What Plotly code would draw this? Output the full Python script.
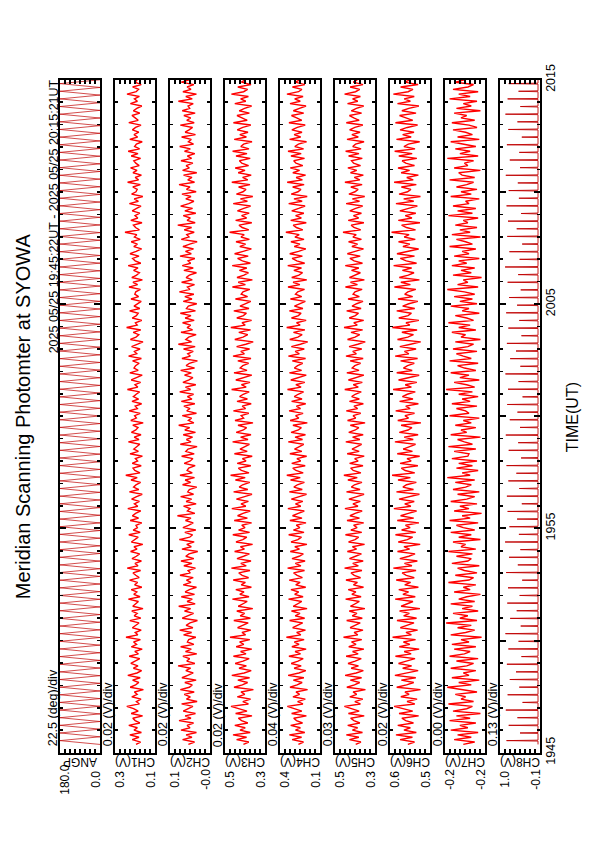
import numpy as np
import plotly.graph_objects as go

# ---------------- data ----------------
TITLE = "Meridian Scanning Photomter at SYOWA"
PERIOD_TEXT = "2025 05/25 19:45:22UT - 2025 05/25 20:15:21UT"
TIME_LABEL = "TIME(UT)"
TIME_TICK_MIN = [0, 5, 10, 15, 20, 25, 30]      # minutes after 19:45
TIME_TICK_TEXT = ["1945", "", "1955", "", "2005", "", "2015"]
TIME_MAJOR_MIN = [10, 20]
T_START = 22 / 60                                # 19:45:22
T_END = 30.0                                     # 20:15 (axis end)

CHANNEL_NAMES = ["ANGP", "CH1(V)", "CH2(V)", "CH3(V)", "CH4(V)", "CH5(V)", "CH6(V)", "CH7(V)", "CH8(V)"]
TOP_LABELS = ["180.0", "0.3", "0.1", "0.5", "0.4", "0.5", "0.6", "-0.2", "1.0"]
BOTTOM_LABELS = ["0.0", "0.1", "-0.0", "0.3", "0.1", "0.3", "0.5", "-0.2", "-0.1"]
DIV_LABELS = ["22.5 (deg)/div", "0.02 (V)/div", "0.02 (V)/div", "0.02 (V)/div", "0.04 (V)/div",
              "0.03 (V)/div", "0.02 (V)/div", "0.00 (V)/div", "0.13 (V)/div"]
AXIS_RANGES = [(0, 180), (0.1, 0.3), (-0.004, 0.12), (0.3, 0.5), (0.1, 0.4),
               (0.29, 0.52), (0.485, 0.64), (-0.22, -0.185), (-0.1, 1.0)]

# scan angle turns between these limits, once per scan
ANGP_LIMITS = [0.0, 180.0]
N_SCANS = 87

# photometer channels, in mV
CH1 = [195,172,214,180,226,168,205,188,231,176,199,211,162,219,184,207,241,178,193,170,
       216,189,203,158,224,197,181,212,174,236,190,167,208,185,221,195,176,229,183,201,
       164,218,192,207,173,245,186,199,169,213,194,180,226,171,204,189,216,160,211,198,
       183,233,175,206,191,219,166,202,187,227,179,196,210,172,239,185,200,168,215,193,
       177,222,190,205,161,218,199,184,231,174,209,188,195,166,224,182,213,197,171,236,
       186,203,178,217,192,164,228,181,207,195,172,220,189,246,175,201,210,169,214,187,
       198,163,225,183,206,191,176,233,180,204,170,218,196,185,211,159,221,193,202,174,
       229,188,199,167,215,182,208,194,177,238,186,200,172,219,190,164,226,184,205,197,
       179,212,168,232,191,203,175,217,187,160,223,195,181,209,171,242,189,198,166,214,
       193,184,227,176,205,190,169,220,182,201,196,173,230,187,210,163,216,192,178,207,
       185,234,171,199,212,180,225,194,167,206,188,219,174,203,191,250,178,197,208,165,
       221,186,200,176,214,192,170,228,183,204,161,217,195,189,211,173,237,182,199,168,
       210,190,222,179,196,206,172,219,185,234,177,202,193,164,226,187,205,181,213,197,
       170,231,184,199,215,176,208,191,166,223,188,203,178,240,194,182,212,169,200,189]
CH2 = [63,44,81,52,70,38,86,58,67,47,92,55,73,41,79,61,49,84,36,69,
       57,76,45,88,60,51,74,39,83,65,48,71,56,95,43,68,59,80,37,72,
       54,87,46,66,62,40,78,53,90,49,70,58,35,82,63,47,75,56,93,42,
       67,51,85,44,73,60,38,79,55,69,48,89,57,64,41,77,52,86,46,71,
       61,34,83,54,68,45,91,59,50,74,40,80,63,48,72,55,97,43,66,58,
       78,39,70,53,87,47,65,60,37,81,56,73,44,89,51,67,62,42,76,57,
       49,84,45,71,64,36,88,55,69,50,79,41,74,59,93,46,63,53,82,38,
       68,58,77,43,85,52,66,47,90,56,72,40,80,61,49,75,54,87,44,70,
       60,35,83,57,65,48,78,42,94,53,71,62,39,86,50,67,56,81,45,73,
       55,88,41,69,63,37,79,52,74,46,91,58,66,44,84,51,70,60,38,77,
       48,82,56,64,43,89,54,72,47,80,59,36,85,61,68,45,76,53,96,42,
       67,57,79,40,74,50,87,62,46,71,55,83,39,69,58,92,44,65,52,78,
       37,81,60,70,49,86,53,66,43,75,57,90,47,63,54,84,41,73,61,50,
       88,45,68,56,77,42,82,59,64,48,94,51,71,38,80,55,67,46,85,60]
CH3 = [408,381,442,392,460,374,425,399,451,386,417,433,365,447,390,428,470,383,411,372,
       438,401,420,358,455,413,387,436,377,466,404,369,430,393,449,410,379,458,395,422,
       366,444,406,427,376,475,397,415,371,437,409,384,456,373,424,402,441,361,434,412,
       389,463,380,426,405,446,368,419,398,459,382,414,431,375,468,394,421,370,440,407,
       378,452,403,423,362,445,411,391,461,377,432,400,416,367,454,388,437,410,374,466,
       396,420,383,443,406,365,457,386,429,412,376,448,399,472,380,418,433,371,439,395,
       413,364,453,389,425,404,378,462,385,422,370,444,408,392,435,360,450,407,419,381,
       458,397,414,369,440,388,427,409,379,467,394,418,375,446,402,366,455,390,424,411,
       382,436,370,460,403,421,377,442,396,359,451,410,386,431,372,471,399,415,367,441,
       408,393,456,380,425,402,371,448,387,419,410,376,463,398,434,363,440,405,383,428,
       391,464,373,413,437,384,452,409,368,426,397,445,378,420,404,477,381,414,430,366,
       447,392,417,379,438,406,372,459,388,423,361,443,410,395,432,375,466,386,412,369,
       434,400,449,382,416,428,374,445,390,462,380,421,407,365,454,393,426,385,439,411,
       371,458,389,415,440,378,429,402,367,451,396,422,383,468,407,387,436,370,418,399]
CH4 = [262,224,309,238,330,214,284,247,320,231,276,297,202,313,236,289,345,228,268,210,
       303,253,280,193,325,272,234,300,221,339,258,206,294,241,316,265,226,333,246,287,
       204,311,257,292,219,352,244,275,209,305,263,230,328,215,286,250,314,197,301,269,
       237,336,227,290,260,318,207,282,249,331,232,271,298,216,343,243,285,212,310,256,
       225,323,254,289,198,317,266,239,335,220,299,251,278,205,326,235,306,263,218,341,
       244,284,229,315,259,201,330,233,296,270,217,321,248,349,226,280,304,211,312,245,
       273,200,326,236,291,258,222,338,231,287,209,317,262,240,303,195,324,259,283,227,
       332,246,277,207,313,235,293,264,223,344,242,281,214,319,252,203,329,238,292,268,
       230,308,208,337,255,286,218,315,247,192,327,266,234,299,213,350,249,276,204,314,
       262,242,330,228,292,255,210,322,237,284,267,216,340,251,302,199,312,258,231,296,
       239,342,215,274,309,232,327,261,206,293,250,318,220,288,256,356,229,277,301,203,
       320,240,283,221,312,260,212,335,234,295,196,316,265,243,305,219,346,232,279,208,
       304,253,323,229,280,297,216,318,241,340,223,289,262,201,328,245,294,235,311,270,
       211,333,237,275,314,222,300,254,205,325,248,290,227,348,261,236,307,214,286,251]
CH5 = [401,371,437,383,455,362,420,390,447,377,411,430,352,443,381,424,466,374,406,360,
       435,395,416,345,452,408,378,432,367,462,398,357,427,385,445,404,369,456,387,419,
       354,441,399,425,366,471,389,410,359,433,403,375,453,363,421,394,438,348,431,407,
       380,459,370,423,400,444,356,414,391,457,373,409,428,365,465,386,418,358,437,402,
       368,449,396,420,350,442,405,384,460,366,429,393,413,355,451,379,434,404,364,463,
       388,417,374,440,401,353,454,376,426,408,365,446,392,469,371,415,430,359,436,387,
       407,352,450,381,422,397,367,458,377,419,358,441,403,383,432,347,448,401,416,372,
       455,390,411,357,437,380,424,404,369,464,386,415,363,443,396,354,452,382,421,406,
       373,433,358,457,397,418,366,439,389,346,448,405,378,428,361,468,392,412,355,438,
       403,385,453,370,422,396,359,445,380,416,405,364,460,391,431,351,437,400,374,425,
       383,461,362,410,434,375,449,404,356,423,390,442,368,417,398,474,372,411,427,354,
       444,384,414,368,435,401,361,456,379,420,349,440,405,387,429,364,463,377,409,357,
       431,395,446,373,413,425,363,442,382,459,370,418,402,353,451,386,423,376,436,406,
       360,455,381,412,437,367,426,397,355,448,389,419,374,465,402,378,433,359,415,392]
CH6 = [571,545,601,553,617,538,586,561,610,549,579,594,529,605,552,589,624,544,574,535,
       598,566,582,522,614,576,548,596,540,621,569,531,591,556,607,572,543,619,558,585,
       527,604,563,588,541,630,557,578,533,600,571,547,613,537,587,565,603,524,597,575,
       551,620,542,590,568,606,530,583,560,616,546,577,593,539,627,555,584,534,602,567,
       543,611,564,586,523,608,573,552,619,540,595,562,580,528,612,548,599,569,537,625,
       559,583,546,605,570,526,615,549,590,576,538,609,561,632,544,581,596,532,601,558,
       574,525,612,553,589,566,541,621,550,585,531,604,570,555,597,520,610,568,582,545,
       618,562,579,530,603,551,592,573,542,628,557,581,536,607,564,527,614,554,588,572,
       546,599,533,620,567,584,539,602,560,521,611,571,549,594,535,631,563,578,528,606,
       570,557,614,544,591,567,532,609,552,583,571,540,623,561,598,526,604,569,547,592,
       556,626,537,577,600,545,613,570,529,590,563,607,542,585,566,634,541,576,595,524,
       608,555,581,540,602,568,534,617,548,587,522,605,572,559,596,538,624,550,575,530,
       597,564,609,545,579,593,536,606,554,622,543,586,569,525,615,558,591,547,601,573,
       533,619,552,578,603,539,594,567,528,611,561,585,546,627,570,551,599,531,583,563]
CH7 = [-201,-211,-193,-208,-196,-214,-190,-205,-198,-212,-189,-207,-195,-216,-192,-204,-209,-188,-210,-199,
       -203,-194,-213,-200,-187,-208,-197,-215,-191,-206,-201,-212,-190,-204,-210,-195,-214,-189,-202,-207,
       -193,-212,-191,-206,-199,-217,-190,-203,-211,-196,-208,-186,-213,-198,-205,-192,-214,-200,-209,-190,
       -211,-197,-204,-216,-193,-207,-201,-212,-188,-206,-210,-194,-213,-202,-196,-215,-191,-205,-208,-195,
       -209,-188,-212,-199,-203,-192,-216,-197,-208,-190,-211,-201,-195,-214,-189,-207,-200,-217,-193,-206,
       -198,-213,-190,-204,-211,-196,-215,-192,-203,-208,-194,-211,-187,-207,-200,-214,-195,-209,-197,-213,
       -191,-205,-206,-193,-212,-188,-209,-202,-196,-216,-190,-204,-199,-212,-194,-208,-201,-215,-189,-206,
       -203,-195,-213,-191,-207,-200,-214,-197,-209,-186,-211,-204,-193,-215,-198,-206,-190,-212,-202,-196,
       -214,-189,-208,-201,-195,-213,-192,-205,-210,-194,-216,-199,-203,-191,-212,-197,-207,-188,-210,-204,
       -194,-215,-200,-206,-190,-213,-198,-209,-193,-211,-202,-187,-214,-196,-205,-201,-217,-192,-208,-199,
       -211,-191,-204,-197,-215,-193,-206,-200,-212,-189,-209,-203,-195,-216,-191,-207,-198,-213,-194,-205,
       -201,-214,-188,-209,-196,-212,-192,-206,-203,-215,-190,-208,-199,-213,-195,-204,-210,-189,-211,-200,
       -197,-216,-193,-205,-202,-210,-187,-214,-198,-207,-194,-212,-200,-190,-215,-196,-209,-203,-192,-213,
       -206,-191,-211,-199,-204,-193,-216,-195,-208,-201,-213,-189,-207,-197,-214,-192,-205,-210,-194,-202]
CH8_BASE = -45
CH8_PEAKS = [820,450,760,520,840,380,790,470,730,560,810,410,770,490,850,430,720,540,800,460,780,390,830,510,750,440,860,480,740,530,790,400,810,470,770,550,820,420,760,500,840,450,730,520,800,380,780,490,850,440,720,560,810,410,770,470,830,530,750,430,790,500,860,460,740,390,800,540,780,420,820,480,760,510,840,450,730,470,810,400,770,520,850,440,790,490,760]

# ---------------- layout constants (pixels) ----------------
W, H = 595, 842
PANEL_LEFT, PANEL_STEP, PANEL_W = 60, 55, 40
PANEL_TOP, PANEL_BOTTOM = 66, 762
FONT = "Liberation Sans, Arial, Helvetica, sans-serif"
RED = "#ff0000"
DARK_RED = "#c00000"


def fx(p):
    return p / W


def fy(p):
    return 1 - p / H


# ---------------- build series ----------------
series = []
half = (T_END - T_START) / (2 * N_SCANS)
angp_t = [T_START + k * half for k in range(2 * N_SCANS + 1)]
angp_v = [ANGP_LIMITS[k % 2] for k in range(2 * N_SCANS + 1)]
series.append((angp_t, angp_v, DARK_RED, 0.7))
for ch in [CH1, CH2, CH3, CH4, CH5, CH6, CH7]:
    t = np.linspace(T_START, T_END, len(ch))
    series.append((t, np.array(ch) / 1000.0, RED, 1.4))
period = (T_END - T_START) / len(CH8_PEAKS)
d = period * 0.06
t8, v8 = [T_START], [CH8_BASE / 1000.0]
for k, p in enumerate(CH8_PEAKS):
    tc = T_START + (k + 0.5) * period
    t8 += [tc - d, tc, tc + d]
    v8 += [CH8_BASE / 1000.0, p / 1000.0, CH8_BASE / 1000.0]
t8.append(T_END)
v8.append(CH8_BASE / 1000.0)
series.append((t8, v8, DARK_RED, 0.9))

fig = go.Figure()
layout = {}
annotations = []

for i in range(9):
    sx = "" if i == 0 else str(i + 1)
    x0 = PANEL_LEFT + i * PANEL_STEP
    x1 = x0 + PANEL_W
    lo, hi = AXIS_RANGES[i]
    t, v, col, lw = series[i]
    last = (i == 8)
    fig.add_trace(go.Scatter(x=v, y=t, mode="lines", line=dict(color=col, width=lw),
                             xaxis="x" + sx, yaxis="y" + sx, showlegend=False, hoverinfo="skip"))
    layout["xaxis" + sx] = dict(
        domain=[fx(x0), fx(x1)], range=[hi, lo], anchor="y" + sx,
        tickmode="linear", tick0=lo, dtick=(hi - lo) / 8,
        ticks="inside", ticklen=4, tickwidth=1.5, tickcolor="black",
        showline=True, linewidth=2, linecolor="black", mirror="ticks",
        showticklabels=False, showgrid=False, zeroline=False, fixedrange=True)
    layout["yaxis" + sx] = dict(
        domain=[fy(PANEL_BOTTOM), fy(PANEL_TOP)], range=[0, 30], anchor="x" + sx,
        side="right" if last else "left",
        tickmode="array", tickvals=TIME_TICK_MIN, ticktext=TIME_TICK_TEXT,
        ticks="inside", ticklen=6, tickwidth=2, tickcolor="black",
        minor=dict(tickmode="linear", tick0=0, dtick=1, ticks="inside", ticklen=3,
                   tickwidth=1.5, tickcolor="black", showgrid=False),
        showline=True, linewidth=2, linecolor="black", mirror="ticks",
        showticklabels=last, tickangle=-90, ticklabelstandoff=-2,
        tickfont=dict(family=FONT, size=12.5, color="black"),
        showgrid=False, zeroline=False, fixedrange=True)
    layout["yaxis" + str(10 + i)] = dict(
        overlaying="y" + sx, anchor="x" + sx, range=[0, 30],
        tickmode="array", tickvals=TIME_MAJOR_MIN,
        ticks="inside", ticklen=11, tickwidth=2, tickcolor="black", mirror="ticks",
        showline=False, showgrid=False, zeroline=False, fixedrange=True,
        showticklabels=False)

    annotations.append(dict(text=DIV_LABELS[i], x=fx(x0 - 7), y=fy(PANEL_BOTTOM - 4),
                            xanchor="center", yanchor="bottom", textangle=-90,
                            font=dict(size=12.5)))
    annotations.append(dict(text=CHANNEL_NAMES[i], x=fx((x0 + x1) / 2), y=fy(771),
                            xanchor="center", yanchor="middle", textangle=180,
                            font=dict(size=12)))
    annotations.append(dict(text=TOP_LABELS[i], x=fx(x0 + 5), y=fy(790),
                            xanchor="center", yanchor="middle", textangle=-90,
                            font=dict(size=12)))
    annotations.append(dict(text=BOTTOM_LABELS[i], x=fx(x1 - 4), y=fy(790),
                            xanchor="center", yanchor="middle", textangle=-90,
                            font=dict(size=12)))

annotations.append(dict(text=TITLE, x=fx(23), y=fy((PANEL_TOP + PANEL_BOTTOM) / 2),
                        xanchor="center", yanchor="middle", textangle=-90,
                        font=dict(size=20)))
annotations.append(dict(text=PERIOD_TEXT, x=fx(53.5), y=fy(PANEL_TOP - 2),
                        xanchor="center", yanchor="top", textangle=-90,
                        font=dict(size=12.5)))
annotations.append(dict(text=TIME_LABEL, x=fx(572), y=fy(415),
                        xanchor="center", yanchor="middle", textangle=-90,
                        font=dict(size=16)))
for a in annotations:
    a.update(xref="paper", yref="paper", showarrow=False)
    a["font"].update(family=FONT, color="black")

fig.update_layout(**layout)
fig.update_layout(width=W, height=H, autosize=False,
                  margin=dict(l=0, r=0, t=0, b=0, pad=0),
                  paper_bgcolor="white", plot_bgcolor="white",
                  annotations=annotations, showlegend=False)

fig.write_html("out.html", config={"displayModeBar": False, "staticPlot": True},
               post_script="document.body.style.margin='0px';")
